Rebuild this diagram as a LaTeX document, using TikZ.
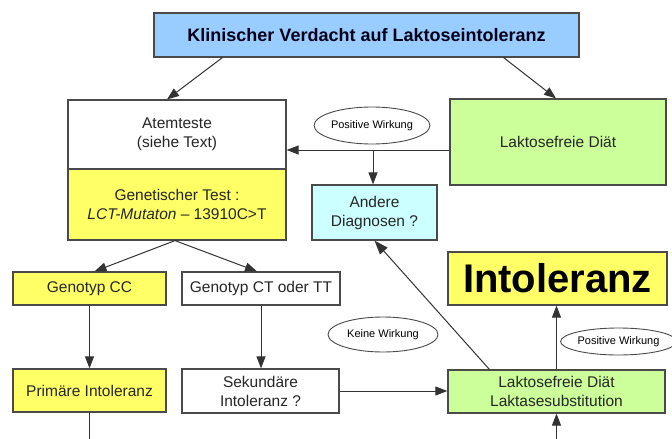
\documentclass[tikz,border=0pt]{standalone}
\usepackage{fontspec}
\setmainfont{Liberation Sans}
\usetikzlibrary{arrows.meta,shapes.geometric}
\newcommand{\nm}{\fontsize{15.5}{18}\selectfont}
\newcommand{\sm}{\fontsize{11}{12}\selectfont}

\definecolor{kblue}{HTML}{99CCFF}
\definecolor{kyellow}{HTML}{FFFF66}
\definecolor{kgreen}{HTML}{CCFF99}
\definecolor{kcyan}{HTML}{CCFFFF}
\definecolor{kline}{HTML}{4A4A4A}

\begin{document}
\begin{tikzpicture}[x=1pt,y=-1pt,
  box/.style={draw=kline,line width=1.2pt,align=center,inner sep=0pt,
              font=\nm,text=black!85},
  oval/.style={draw=kline,line width=0.9pt,ellipse,inner sep=0pt,font=\sm},
  link/.style={draw=black!80,line width=1pt,-{Triangle[length=12pt,width=9pt]}}]
  \useasboundingbox (0,0) rectangle (672,439);
  \node[box,fill=kblue,minimum width=425pt,minimum height=44pt,
        font=\fontsize{18}{20}\selectfont\bfseries,text=black!90!blue]
        (top) at (366.5,35) {Klinischer Verdacht auf Laktoseintoleranz};
  \node[box,fill=white,minimum width=218pt,minimum height=69pt]
        (atem) at (177,134.5) {Atemteste\\[1pt](siehe Text)};
  \node[box,fill=kyellow,minimum width=218pt,minimum height=71pt]
        (gen) at (177,204.5) {Genetischer Test :\\[1pt]\textit{LCT-Mutaton} \textendash{} 13910C>T};
  \node[box,fill=kgreen,minimum width=216pt,minimum height=86pt]
        (lakto) at (558,142) {Laktosefreie Diät};
  \node[box,fill=kcyan,minimum width=125pt,minimum height=55pt]
        (andere) at (374.5,212.5) {Andere\\[1pt]Diagnosen ?};
  \node[box,fill=kyellow,minimum width=153pt,minimum height=33pt]
        (cc) at (89.5,288.5) {Genotyp CC};
  \node[box,fill=white,minimum width=158pt,minimum height=33pt]
        (ct) at (261,288.5) {Genotyp CT oder TT};
  \node[box,fill=kyellow,minimum width=153pt,minimum height=43pt]
        (prim) at (89.5,390.5) {Primäre Intoleranz};
  \node[box,fill=white,minimum width=157pt,minimum height=44pt]
        (sek) at (260.5,391) {Sekundäre\\[1pt]Intoleranz ?};
  \node[box,fill=kyellow,minimum width=219pt,minimum height=53pt,
        font=\fontsize{40}{44}\selectfont\bfseries,text=black]
        (intol) at (557.5,278.5) {Intoleranz};
  \node[box,fill=kgreen,minimum width=217pt,minimum height=43pt]
        (subst) at (556.5,391.5) {Laktosefreie Diät\\[1pt]Laktasesubstitution};
  % labels on the arrows
  \node[oval,minimum width=110pt,minimum height=37pt] (pos1) at (372,125.5) {Positive Wirkung};
  \node[oval,minimum width=110pt,minimum height=35pt] (keine) at (383,334.5) {Keine Wirkung};
  \node[oval,minimum width=103pt,minimum height=27pt] (pos2) at (618.5,341.5) {Positive Wirkung};
  % arrows
  \coordinate (split) at (373,150);
  \coordinate (bottom) at (0,439.3);
  \draw[link] ([xshift=69pt]top.south west) -- ([xshift=-10pt]atem.north);
  \draw[link] ([xshift=-76pt]top.south east) -- ([xshift=-2pt]lakto.north);
  \draw[link] (lakto.west |- split) -- (atem.east |- split);
  \draw[link] (split) -- (andere.north -| split);
  \draw[link] ([xshift=-2pt]gen.south) -- ([xshift=5pt]cc.north);
  \draw[link] ([xshift=-2pt]gen.south) -- ([xshift=-4pt]ct.north);
  \draw[link] (cc.south) -- (prim.north);
  \draw[link] (ct.south) -- (ct.south |- sek.north);
  \draw[link] (sek.east) -- (sek.east -| subst.west);
  \draw[link,-{Triangle[length=14pt,width=10pt]}] ([xshift=42pt]subst.north west) -- (andere.south);
  \draw[link] (subst.north) -- (subst.north |- intol.south);
  \draw[link] (prim.south) -- (prim.south |- bottom) -| (subst.south);
\end{tikzpicture}
\end{document}
